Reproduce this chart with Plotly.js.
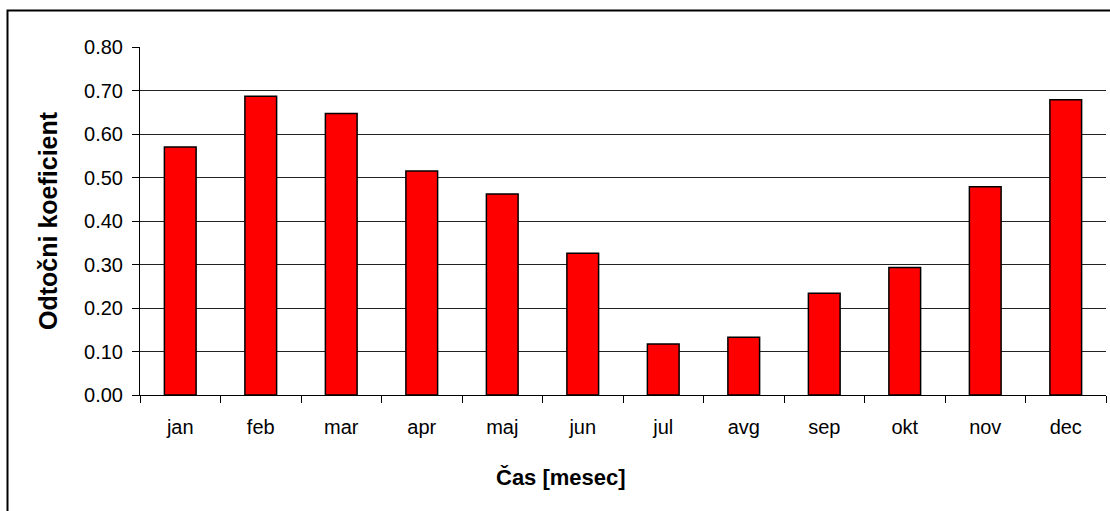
<!DOCTYPE html>
<html>
<head>
<meta charset="utf-8">
<script src="https://cdn.plot.ly/plotly-3.0.1.min.js"></script>
<style>
html,body{margin:0;padding:0;background:#fff;}
#chart{width:1110px;height:511px;}
</style>
</head>
<body>
<div id="chart"></div>
<script>
const months = ["jan","feb","mar","apr","maj","jun","jul","avg","sep","okt","nov","dec"];
const coefficients = [0.570,0.687,0.647,0.515,0.462,0.326,0.117,0.133,0.234,0.293,0.479,0.679];
const yTicks = [0,0.1,0.2,0.3,0.4,0.5,0.6,0.7,0.8];
const xTitle = "Čas [mesec]";
const yTitle = "Odtočni koeficient";

const fontFamily = "Liberation Sans, Arial, sans-serif";

const trace = {
  type: "bar",
  x: months,
  y: coefficients,
  marker: {color: "#ff0000", line: {color: "#000000", width: 1.5}},
  hoverinfo: "x+y"
};

const layout = {
  width: 1110,
  height: 511,
  margin: {l: 140, r: 4, t: 47, b: 116},
  paper_bgcolor: "#ffffff",
  plot_bgcolor: "#ffffff",
  bargap: 0.606,
  showlegend: false,
  font: {family: fontFamily, color: "#000", size: 20},
  xaxis: {
    type: "category",
    tickson: "boundaries",
    ticks: "outside",
    ticklen: 7,
    tickcolor: "#000",
    tickwidth: 1,
    showline: true,
    linecolor: "#000",
    linewidth: 1,
    showgrid: false,
    tickfont: {family: fontFamily, size: 20, color: "#000"},
    ticklabelstandoff: 14,
    automargin: false
  },
  yaxis: {
    range: [0, 0.8],
    tickvals: yTicks,
    tickformat: ".2f",
    ticks: "outside",
    ticklen: 7,
    tickcolor: "#000",
    tickwidth: 1,
    showline: true,
    linecolor: "#000",
    linewidth: 1,
    showgrid: true,
    gridcolor: "#222",
    gridwidth: 1,
    zeroline: false,
    tickfont: {family: fontFamily, size: 20, color: "#000"},
    ticklabelstandoff: 5,
    automargin: false
  },
  annotations: [
    {
      text: xTitle, xref: "paper", yref: "paper",
      x: (561 - 140) / 966, y: (395 - 477) / 348,
      xanchor: "center", yanchor: "middle", showarrow: false,
      font: {family: fontFamily, size: 22, color: "#000", weight: "bold"}
    },
    {
      text: yTitle, xref: "paper", yref: "paper",
      x: (48 - 140) / 966, y: 0.5, textangle: -90,
      xanchor: "center", yanchor: "middle", showarrow: false,
      font: {family: fontFamily, size: 25, color: "#000", weight: "bold"}
    }
  ],
  shapes: [{
    type: "rect",
    xref: "paper", yref: "paper",
    x0: (7.5 - 140) / 966, x1: 1.05,
    y0: -0.5, y1: (395 - 10.5) / 348,
    line: {color: "#000", width: 2},
    fillcolor: "rgba(0,0,0,0)",
    layer: "below"
  }]
};

Plotly.newPlot("chart", [trace], layout, {staticPlot: true, displayModeBar: false});
</script>
</body>
</html>
